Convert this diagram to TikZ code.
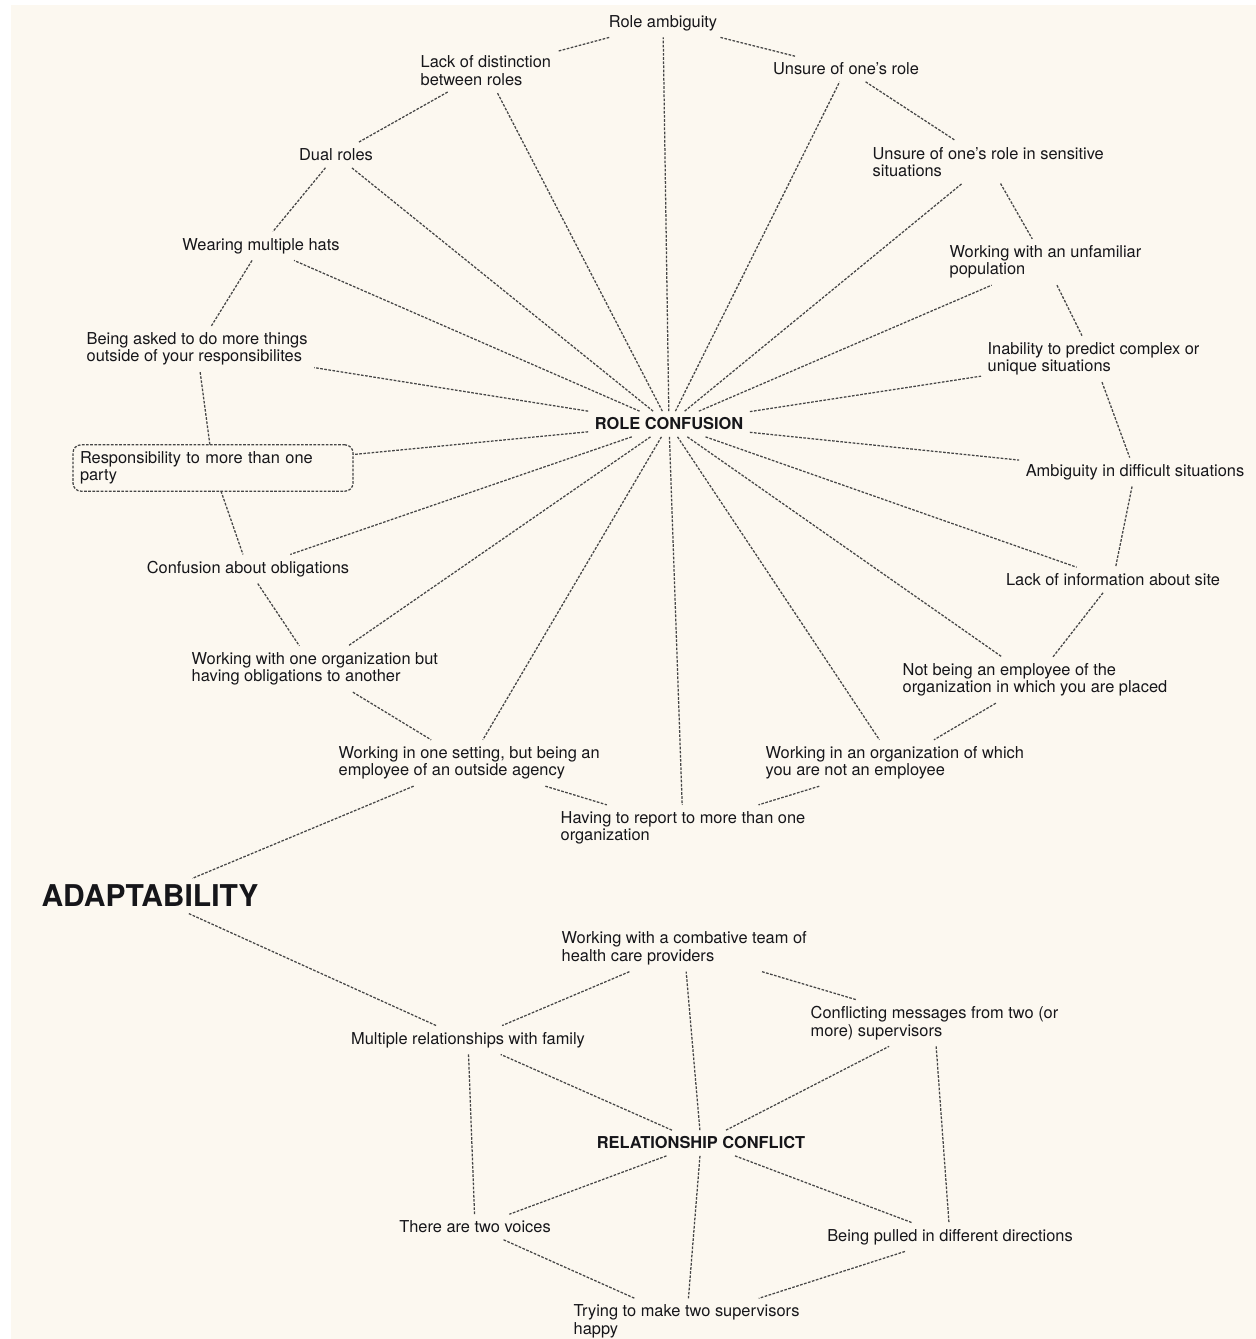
\documentclass[tikz,border=0pt]{standalone}
\usepackage{fontspec}
\setmainfont{TeX Gyre Heros}
\begin{document}
\definecolor{paper}{RGB}{252,248,240}
\definecolor{ink}{RGB}{22,22,26}
\definecolor{wire}{RGB}{70,70,70}
\begin{tikzpicture}[x=0.75pt,y=-0.75pt,
  every node/.style={font=\fontsize{12.3pt}{13.1pt}\selectfont, text=ink, inner sep=5pt, outer sep=0pt},
  item/.style={align=left},
  itemw/.style={align=left, anchor=west},
  hub/.style={font=\fontsize{12.3pt}{13.1pt}\selectfont\bfseries},
  theme/.style={font=\fontsize{22.5pt}{24pt}\selectfont\bfseries},
  link/.style={draw=wire, line width=0.95pt, dash pattern=on 2pt off 1.1pt},
  framed/.style={draw=wire, line width=0.95pt, dash pattern=on 2pt off 1.1pt, rounded corners=6pt,
     anchor=west, align=left, inner xsep=5.25pt, text width=199.5pt, minimum height=31.5pt}
]
% page
\fill[white] (0,0) rectangle (1256,1339);
\fill[paper] (11,5) rectangle (1256,1339);
\useasboundingbox (0,0) rectangle (1256,1339);

% ---- role confusion cluster ----
\node[hub] (rc) at (669,424) {ROLE CONFUSION};

\node[item] (ra) at (663,23) {Role ambiguity};
\node[itemw] (ld) at (414,70.5) {Lack of distinction\\between roles};
\node[item] (uor) at (846,69) {Unsure of one’s role};
\node[item] (dr) at (336,155) {Dual roles};
\node[itemw] (uis) at (866,162) {Unsure of one’s role in sensitive\\situations};
\node[item] (wmh) at (261,246) {Wearing multiple hats};
\node[itemw] (wwu) at (943,262) {Working with an unfamiliar\\population};
\node[itemw] (ba) at (80,349) {Being asked to do more things\\outside of your responsibilites};
\node[itemw] (inab) at (981,359) {Inability to predict complex or\\unique situations};
\node[framed] (resp) at (73,468) {Responsibility to more than one\\party};
\node[item] (amb) at (1135,472) {Ambiguity in difficult situations};
\node[item] (conf) at (248,569) {Confusion about obligations};
\node[item] (loi) at (1113,580) {Lack of information about site};
\node[itemw] (wwo) at (185,669) {Working with one organization but\\having obligations to another};
\node[itemw] (nbe) at (896,680) {Not being an employee of the\\organization in which you are placed};
\node[itemw] (wios) at (332,763) {Working in one setting, but being an\\employee of an outside agency};
\node[itemw] (wiao) at (759,763) {Working in an organization of which\\you are not an employee};
\node[itemw] (htr) at (554,828) {Having to report to more than one\\organization};

% spokes
\foreach \n in {ra,ld,uor,dr,uis,wmh,wwu,ba,inab,resp,amb,conf,loi,wwo,nbe,wios,wiao,htr}
  \draw[link] (rc) -- (\n);

% outer ring
\draw[link] (ra) -- (ld);
\draw[link] (ld) -- (dr);
\draw[link] (dr) -- (wmh);
\draw[link] (wmh) -- (ba);
\draw[link] (ba) -- (resp);
\draw[link] (resp) -- (conf);
\draw[link] (conf) -- (wwo);
\draw[link] (wwo) -- (wios);
\draw[link] (wios) -- (htr);
\draw[link] (ra) -- (uor);
\draw[link] (uor) -- (uis);
\draw[link] (uis) -- (wwu);
\draw[link] (wwu) -- (inab);
\draw[link] (inab) -- (amb);
\draw[link] (amb) -- (loi);
\draw[link] (loi) -- (nbe);
\draw[link] (nbe) -- (wiao);
\draw[link] (wiao) -- (htr);

% ---- adaptability ----
\node[theme] (ad) at (150,896) {ADAPTABILITY};

% ---- relationship conflict cluster ----
\node[hub] (rel) at (701,1143) {RELATIONSHIP CONFLICT};
\node[itemw] (wct) at (555,948.5) {Working with a combative team of\\health care providers};
\node[itemw] (cm) at (804,1023) {Conflicting messages from two (or\\more) supervisors};
\node[item] (mrf) at (468,1040) {Multiple relationships with family};
\node[item] (tv) at (475,1227) {There are two voices};
\node[item] (bp) at (950,1237) {Being pulled in different directions};
\node[itemw] (tt) at (567,1321.5) {Trying to make two supervisors\\happy};

\draw[link] (wios) -- (ad);
\draw[link] (ad) -- (mrf);

\foreach \n in {wct,cm,mrf,tv,bp,tt}
  \draw[link] (rel) -- (\n);
\draw[link] (wct) -- (mrf);
\draw[link] (wct) -- (cm);
\draw[link] (mrf) -- (tv);
\draw[link] (cm) -- (bp);
\draw[link] (tv) -- (tt);
\draw[link] (bp) -- (tt);
\end{tikzpicture}
\end{document}
